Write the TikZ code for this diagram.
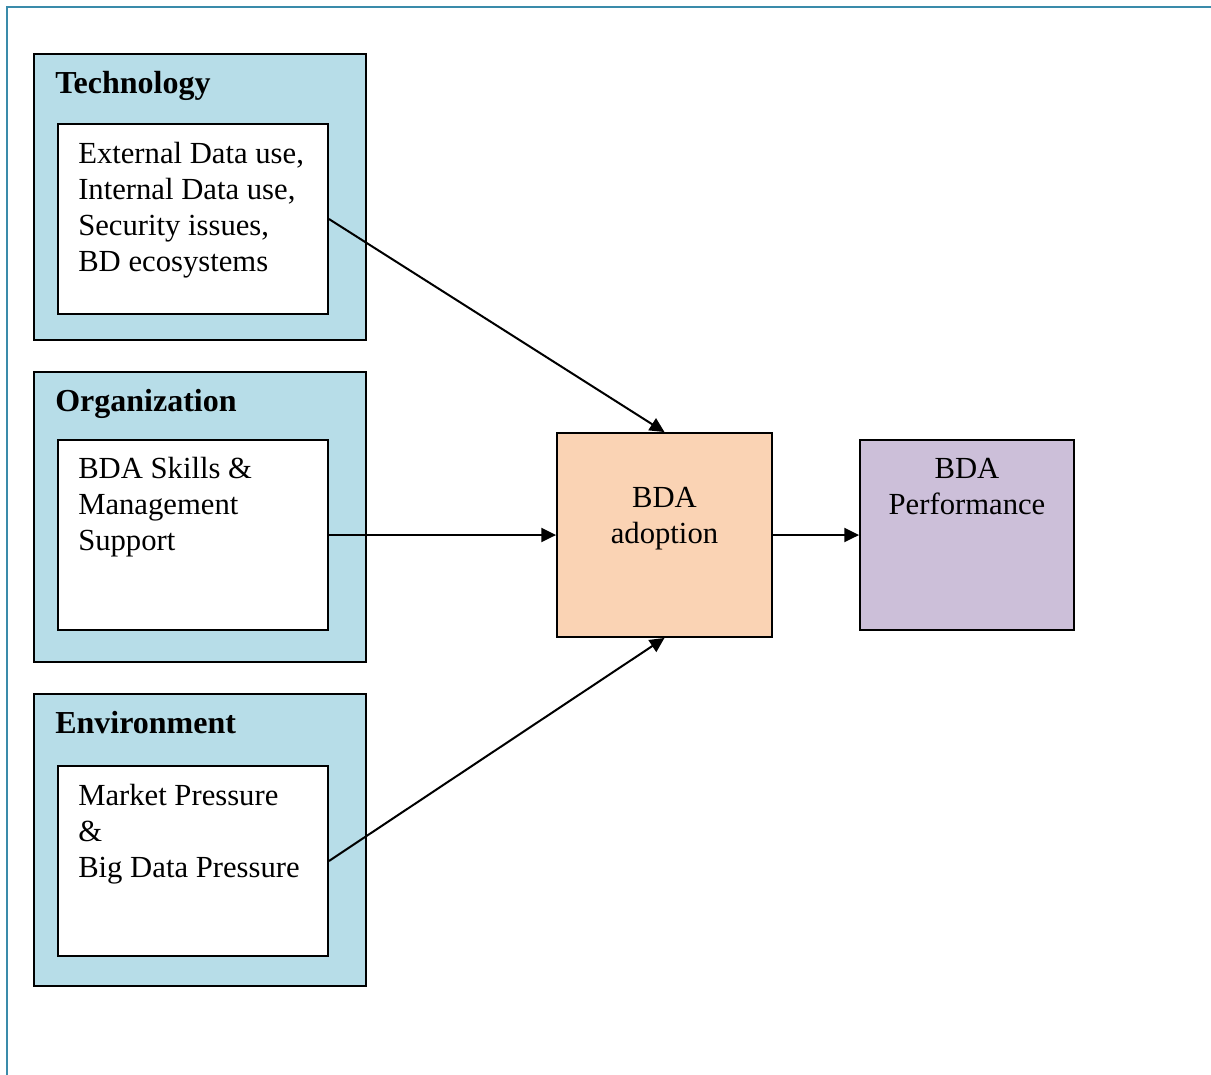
\documentclass[tikz,border=0pt]{standalone}
\usepackage{fontspec}
\setmainfont{Liberation Serif}
\usetikzlibrary{arrows.meta}
\definecolor{framecol}{HTML}{3A8BAA}
\definecolor{factorfill}{HTML}{B7DDE8}
\definecolor{adoptfill}{HTML}{FAD3B4}
\definecolor{perffill}{HTML}{CCBFD9}
\tikzset{
  box/.style={draw=black, line width=1.4pt, rectangle, inner sep=0pt},
  outerbox/.style={box, fill=factorfill, minimum width=249pt},
  innerbox/.style={box, fill=white, minimum width=202.5pt, minimum height=142.5pt},
  heading/.style={anchor=base west, inner sep=0pt, font=\fontsize{24}{27}\selectfont\bfseries},
  body/.style={anchor=north west, inner sep=0pt, align=left, font=\fontsize{23}{27}\selectfont},
  centretext/.style={anchor=north, inner sep=0pt, align=center, font=\fontsize{23}{27}\selectfont},
  link/.style={line width=1.5pt, -{Triangle[length=11pt,width=10.5pt]}}
}
\begin{document}
\begin{tikzpicture}[x=0.75pt, y=-0.75pt]
\useasboundingbox (0,0) rectangle (1211,1075);
% page frame
\draw[framecol, line width=1.5pt] (7,1075) -- (7,6.5) -- (1211,6.5);

% Technology
\node[outerbox, minimum height=214.5pt] (tech) at (200,197) {};
\node[innerbox] (techin) at (193,219) {};
\node[heading] (techtitle) at (55,93) {Technology};
\node[body] (techtext) at (78,142) {External Data use,\\Internal Data use,\\Security issues,\\BD ecosystems};

% Organization
\node[outerbox, minimum height=217.5pt] (org) at (200,517) {};
\node[innerbox] (orgin) at (193,535) {};
\node[heading] (orgtitle) at (55,411) {Organization};
\node[body] (orgtext) at (78,457) {BDA Skills \&\\Management\\Support};

% Environment
\node[outerbox, minimum height=219pt] (env) at (200,840) {};
\node[innerbox] (envin) at (193,861) {};
\node[heading] (envtitle) at (55,733) {Environment};
\node[body] (envtext) at (78,784) {Market Pressure\\\&\\Big Data Pressure};

% Outcome boxes
\node[box, fill=adoptfill, minimum width=161.25pt, minimum height=153pt] (adopt) at (664.5,535) {};
\node[centretext] (adopttext) at (664.5,487) {BDA\\adoption};
\node[box, fill=perffill, minimum width=160.5pt, minimum height=142.5pt] (perf) at (967,535) {};
\node[centretext] (perftext) at (967,458) {BDA\\Performance};

% Connectors
\draw[link] (techin.east) -- (adopt.north);
\draw[link] (orgin.east) -- (adopt.west);
\draw[link] (envin.east) -- (adopt.south);
\draw[link] (adopt.east) -- (perf.west);
\end{tikzpicture}
\end{document}
